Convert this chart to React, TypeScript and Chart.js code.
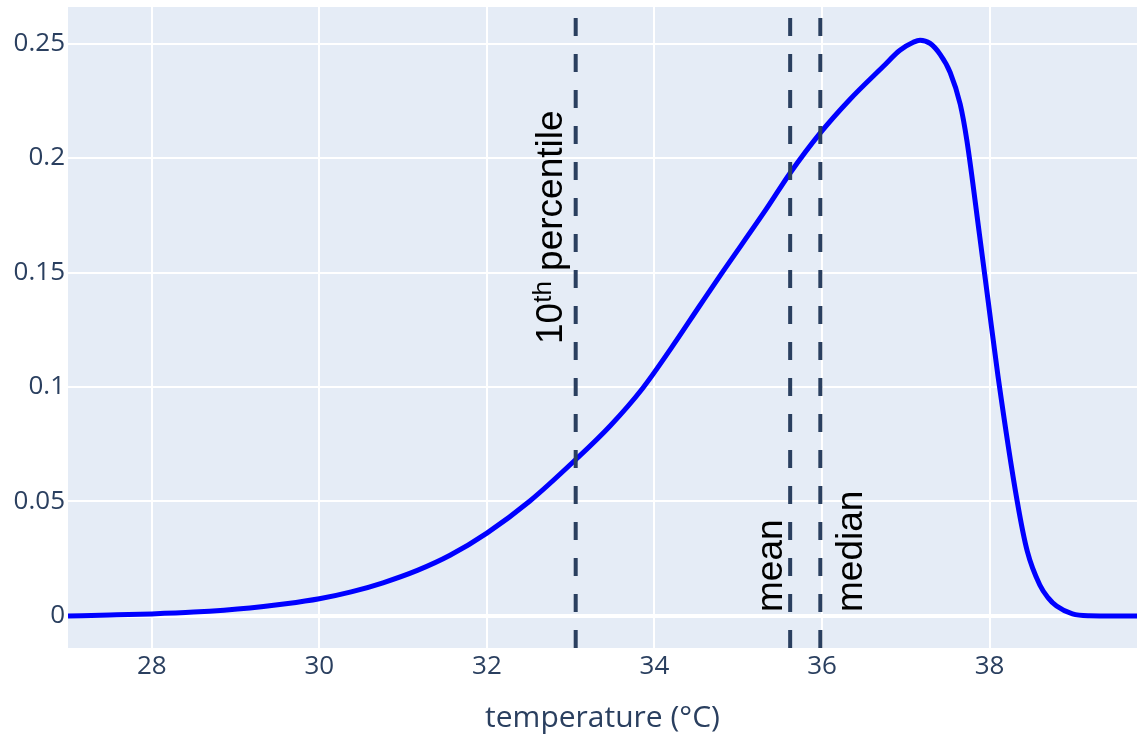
import React, { useEffect, useRef } from "react";
import { Chart, registerables } from "chart.js";

Chart.register(...registerables);

// ---- data ----
const temperatures = [
  27.0, 27.5, 28.0, 28.5, 29.17, 29.6, 30.0, 30.38, 30.76, 31.17, 31.56, 32.0,
  32.51, 33.06, 33.47, 33.86, 34.2, 34.54, 34.79, 35.34, 35.62, 35.98, 36.33,
  36.73, 36.93, 37.09, 37.17, 37.29, 37.41, 37.53, 37.65, 37.73, 37.88, 37.98,
  38.1, 38.33, 38.45, 38.6, 38.7, 38.8, 38.99, 39.19, 39.5, 39.76,
];
const density = [
  0.0, 0.0004, 0.0009, 0.0017, 0.0035, 0.0053, 0.0075, 0.0105, 0.0145, 0.0199,
  0.0265, 0.0362, 0.0501, 0.0683, 0.083, 0.0995, 0.117, 0.1355, 0.149, 0.178,
  0.1935, 0.211, 0.2255, 0.24, 0.2471, 0.2506, 0.2515, 0.2501, 0.2453, 0.2374,
  0.2235, 0.2075, 0.1665, 0.1385, 0.105, 0.0501, 0.0283, 0.0135, 0.0079, 0.0043,
  0.0009, 0.0001, 0.0, 0.0,
];
const tenthPercentile = 33.06;
const meanTemp = 35.62;
const medianTemp = 35.98;
const xTicks = [28, 30, 32, 34, 36, 38];
const xTickLabels = ["28", "30", "32", "34", "36", "38"];
const yTicks = [0, 0.05, 0.1, 0.15, 0.2, 0.25];
const yTickLabels = ["0", "0.05", "0.1", "0.15", "0.2", "0.25"];
const xRange = [27, 39.76];
const yRange = [-0.014, 0.266];
const xTitle = "temperature (°C)";

const TEXT_FONT = "'Liberation Sans', Arial, sans-serif";
const AXIS_FONT = "'Open Sans', 'Noto Sans', sans-serif";

const bgPlugin = {
  id: "plotBg",
  beforeDraw(chart: any) {
    const { ctx, chartArea: a } = chart;
    ctx.save();
    ctx.fillStyle = "#E5ECF6";
    ctx.fillRect(a.left, a.top, a.right - a.left, a.bottom - a.top);
    ctx.restore();
  },
};

function drawRotated(ctx: CanvasRenderingContext2D, x: number, y: number, parts: { text: string; size: number; shift: number }[]) {
  ctx.save();
  ctx.translate(x, y);
  ctx.rotate(-Math.PI / 2);
  ctx.fillStyle = "#000000";
  ctx.textAlign = "left";
  ctx.textBaseline = "alphabetic";
  let pos = 0;
  for (const p of parts) {
    ctx.font = `${p.size}px ${TEXT_FONT}`;
    ctx.fillText(p.text, pos, -p.shift);
    pos += ctx.measureText(p.text).width;
  }
  ctx.restore();
}

const labelPlugin = {
  id: "vlineLabels",
  afterDatasetsDraw(chart: any) {
    const { ctx, chartArea: a, scales } = chart;
    const xs = scales.x;
    const tenthX = xs.getPixelForValue(tenthPercentile);
    const meanX = xs.getPixelForValue(meanTemp);
    const medX = xs.getPixelForValue(medianTemp);
    drawRotated(ctx, tenthX - 14, a.top + 337, [
      { text: "10", size: 37, shift: 0 },
      { text: "th", size: 26, shift: 11 },
      { text: " percentile", size: 37, shift: 0 },
    ]);
    drawRotated(ctx, meanX - 8, a.bottom - 36, [{ text: "mean", size: 37, shift: 0 }]);
    drawRotated(ctx, medX + 42, a.bottom - 36, [{ text: "median", size: 37, shift: 0 }]);
  },
};

function vline(v: number) {
  return {
    data: [
      { x: v, y: yRange[0] },
      { x: v, y: yRange[1] },
    ],
    borderColor: "#2a3f5f",
    borderWidth: 4,
    borderDash: [18, 18],
    pointRadius: 0,
    fill: false,
    order: 0,
  };
}

export default function App() {
  const ref = useRef<HTMLCanvasElement | null>(null);
  useEffect(() => {
    if (!ref.current) return;
    const curve = temperatures.map((t, i) => ({ x: t, y: density[i] }));
    const chart = new Chart(ref.current, {
      type: "line",
      data: {
        datasets: [
          vline(tenthPercentile),
          vline(meanTemp),
          vline(medianTemp),
          {
            data: curve,
            borderColor: "#0000ff",
            borderWidth: 5,
            pointRadius: 0,
            fill: false,
            cubicInterpolationMode: "monotone",
            order: 1,
          },
        ],
      },
      options: {
        animation: false,
        responsive: false,
        layout: { padding: { top: 7, left: 0, right: 0, bottom: 0 } },
        plugins: { legend: { display: false }, tooltip: { enabled: false } },
        scales: {
          x: {
            type: "linear",
            min: xRange[0],
            max: xRange[1],
            afterBuildTicks(scale: any) {
              scale.ticks = xTicks.map((v) => ({ value: v }));
            },
            afterFit(scale: any) {
              scale.height = 87;
              scale.paddingLeft = 0;
              scale.paddingRight = 0;
            },
            grid: { color: "#ffffff", lineWidth: 2, drawTicks: false },
            border: { display: false },
            ticks: {
              padding: 3,
              color: "#2a3f5f",
              font: { family: AXIS_FONT, size: 26 },
              callback: (v: any) => {
                const i = xTicks.indexOf(Number(v));
                return i >= 0 ? xTickLabels[i] : "";
              },
            },
            title: {
              display: true,
              text: xTitle,
              color: "#2a3f5f",
              font: { family: AXIS_FONT, size: 30, lineHeight: 1 },
              padding: { top: 0, bottom: 2 },
            },
          },
          y: {
            type: "linear",
            min: yRange[0],
            max: yRange[1],
            afterBuildTicks(scale: any) {
              scale.ticks = yTicks.map((v) => ({ value: v }));
            },
            afterFit(scale: any) {
              scale.width = 68;
              scale.paddingTop = 0;
              scale.paddingBottom = 0;
            },
            grid: {
              color: "#ffffff",
              lineWidth: (c: any) => (c.tick && c.tick.value === 0 ? 4 : 2),
              drawTicks: false,
            },
            border: { display: false },
            ticks: {
              padding: 3,
              color: "#2a3f5f",
              font: { family: AXIS_FONT, size: 26 },
              callback: (v: any) => {
                const i = yTicks.indexOf(Number(v));
                return i >= 0 ? yTickLabels[i] : "";
              },
            },
          },
        },
      } as any,
      plugins: [bgPlugin, labelPlugin],
    });
    return () => chart.destroy();
  }, []);
  return (
    <div style={{ position: "absolute", left: 0, top: 0, width: 1137, height: 735, background: "#ffffff" }}>
      <canvas ref={ref} width={1137} height={735} style={{ display: "block" }} />
    </div>
  );
}
